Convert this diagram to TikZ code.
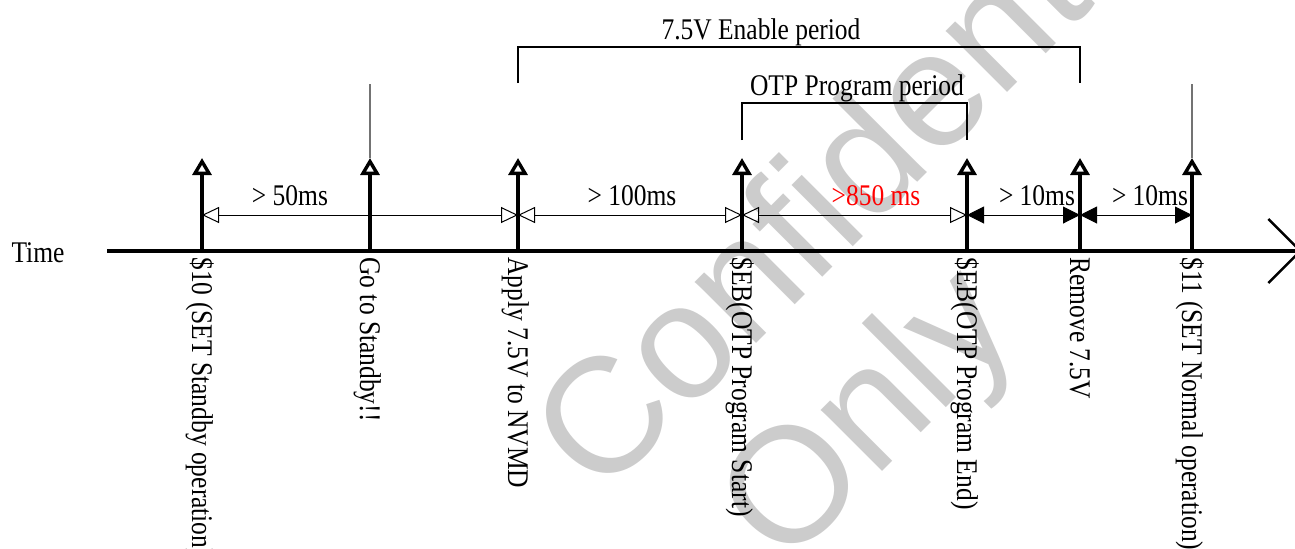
\documentclass[tikz,border=0pt]{standalone}
\usepackage{fontspec}
\setmainfont[FakeStretch=0.85]{Liberation Serif}
\newfontfamily\wmfont{Liberation Sans}
\usetikzlibrary{arrows.meta,positioning}

\begin{document}
\begin{tikzpicture}[
x=0.5pt,y=-0.5pt,
font=\fontsize{15}{18}\selectfont,
otip/.tip={Triangle[open,length=8.5pt,width=8pt]},
ftip/.tip={Triangle[length=8.5pt,width=8.5pt]},
axis/.style={line width=1.7pt,-{Straight Barb[length=16pt,width=32pt,line width=1.2pt]}},
event/.style={line width=1.7pt,-{Triangle[open,length=8.5pt,width=9.5pt]}},
guide/.style={line width=0.9pt,black!55},
bracket/.style={line width=0.8pt},
dim/.style={line width=0.5pt},
evlabel/.style={rotate=-90,anchor=base west,inner sep=0pt},
dimlabel/.style={anchor=base,inner sep=0pt},
wmark/.style={rotate=45,anchor=base west,inner sep=0pt,text=black!20,font=\wmfont\fontsize{82}{90}\selectfont}]
\useasboundingbox (0,0) rectangle (1295,548);
% watermark
\node[wmark] (wm1) at (600,500) {Confidential};
\node[wmark] (wm2) at (784,570) {Only};
% time axis
\coordinate (t0) at (107,251);
\coordinate (t1) at (1302,251);
\draw[axis] (t0) -- (t1);
\node[anchor=base] (time) at (38,262) {Time};
% events on the axis
\coordinate (e1) at (202,251);
\coordinate (e2) at (370,251);
\coordinate (e3) at (518,251);
\coordinate (e4) at (742,251);
\coordinate (e5) at (967,251);
\coordinate (e6) at (1080,251);
\coordinate (e7) at (1192,251);
\foreach \e in {e1,e2,e3,e4,e5,e6,e7}{
  \coordinate (\e top) at ([yshift=46.5pt]\e);
  \coordinate (\e dim) at ([yshift=18pt]\e);
  \draw[event] (\e) -- (\e top);
}
\draw[guide] (e2top) -- ++(0,-74);
\draw[guide] (e7top) -- ++(0,-74);
\node[evlabel] (l1) at (192,257) {\$10 (SET Standby operation)};
\node[evlabel] (l2) at (360,257) {Go to Standby!!};
\node[evlabel] (l3) at (508,257) {Apply 7.5V to NVMD};
\node[evlabel] (l4) at (732,257) {\$EB(OTP Program Start)};
\node[evlabel] (l5) at (957,257) {\$EB(OTP Program End)};
\node[evlabel] (l6) at (1070,257) {Remove 7.5V};
\node[evlabel] (l7) at (1182,257) {\$11 (SET Normal operation)};
% periods
\coordinate (en1) at (518,83);
\coordinate (en2) at (1080,83);
\draw[bracket] (en1) -- ++(0,-36) -| (en2);
\node[anchor=base] (enlbl) at (761,39) {7.5V Enable period};
\coordinate (otp1) at (742,140);
\coordinate (otp2) at (967,140);
\draw[bracket] (otp1) -- ++(0,-37) -| (otp2);
\node[anchor=base] (otplbl) at (857,95) {OTP Program period};
% timing
\draw[dim,otip-otip] (e1dim) -- (e3dim);
\draw[dim,otip-otip] (e3dim) -- (e4dim);
\draw[dim,otip-otip] (e4dim) -- (e5dim);
\draw[dim,ftip-ftip] (e5dim) -- (e6dim);
\draw[dim,ftip-ftip] (e6dim) -- (e7dim);
\node[dimlabel] (w1) at (290,205) {> 50ms};
\node[dimlabel] (w2) at (632,205) {> 100ms};
\node[dimlabel,red] (w3) at (876,205) {>850 ms};
\node[dimlabel] (w4) at (1037,205) {> 10ms};
\node[dimlabel] (w5) at (1150,205) {> 10ms};
\end{tikzpicture}
\end{document}
